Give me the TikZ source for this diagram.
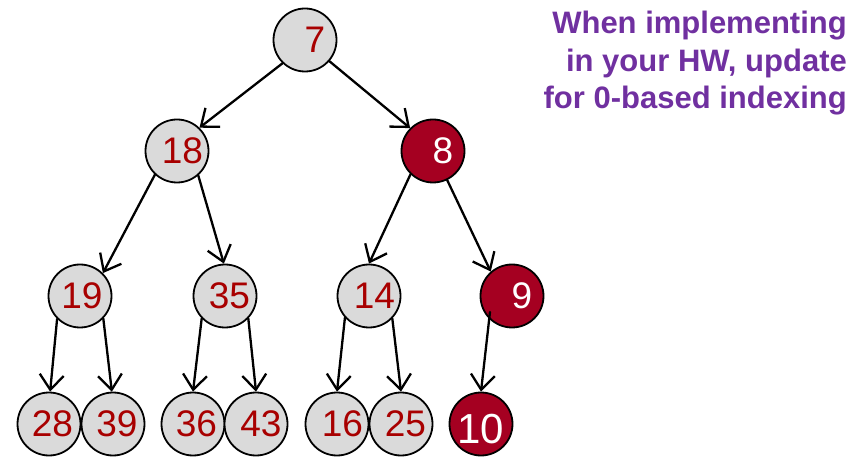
\documentclass[tikz,border=0pt]{standalone}
\usepackage{fontspec}
\setmainfont{Liberation Sans}
\usetikzlibrary{arrows.meta,calc}

\definecolor{keyred}{HTML}{A50021}
\definecolor{digitred}{HTML}{A80000}
\definecolor{keygrey}{HTML}{DADADA}
\definecolor{notepurple}{HTML}{7030A0}

% shift the digits right inside their circle (kern = twice the offset)
\newcommand\nudge[2]{\kern#1pt #2}

\begin{document}
\begin{tikzpicture}[x=1pt,y=-1pt,
  heapnode/.style={circle, draw=black, line width=1.8pt, minimum size=63pt,
    inner sep=0pt, font=\fontsize{37}{40}\selectfont},
  plain/.style={heapnode, fill=keygrey, text=digitred},
  moved/.style={heapnode, fill=keyred, text=white},
  heapedge/.style={line width=2.3pt, line cap=round,
    -{Straight Barb[length=15pt,width=24pt,line width=2.3pt]}}]
\useasboundingbox (0,0) rectangle (865,462);

% level 0
\node[plain] (n7)  at (305,40)  {\nudge{20}{7}};
% level 1
\node[plain] (n18) at (177,151) {\nudge{11}{18}};
\node[moved] (n8)  at (433,151) {\nudge{20}{8}};
% level 2
\node[plain] (n19) at (80,296)  {\nudge{4}{19}};
\node[plain] (n35) at (225,296) {\nudge{9}{35}};
\node[plain] (n14) at (369,296) {\nudge{11}{14}};
\node[moved] (n9)  at (512,296) {\nudge{20}{9}};
% level 3
\node[plain] (n28) at (49,424)  {\nudge{7}{28}};
\node[plain] (n39) at (113,424) {\nudge{8}{39}};
\node[plain] (n36) at (193,424) {\nudge{7}{36}};
\node[plain] (n43) at (256,424) {\nudge{10}{43}};
\node[plain] (n16) at (337,424) {\nudge{11}{16}};
\node[plain] (n25) at (401,424) {\nudge{9}{25}};
\node[moved, font=\fontsize{42}{44}\selectfont] (n10) at (481,424)
  {\raisebox{-4pt}[30pt][0pt]{10}};

\coordinate (n9tail) at ($(n9.center)+(-22,16)$);

% parent-to-child links
\draw[heapedge] (n7.226)  -- (n18.46);
\draw[heapedge] (n7.319)  -- (n8.135);
\draw[heapedge] (n18.227) -- (n19.45);
\draw[heapedge] (n18.311) -- (n35.92);
\draw[heapedge] (n8.226)  -- (n14.90);
\draw[heapedge] (n8.296)  -- (n9.131);
\draw[heapedge] (n19.225) -- (n28.88);
\draw[heapedge] (n19.316) -- (n39.92);
\draw[heapedge] (n35.224) -- (n36.90);
\draw[heapedge] (n35.316) -- (n43.90);
\draw[heapedge] (n14.222) -- (n16.90);
\draw[heapedge] (n14.316) -- (n25.90);
\draw[heapedge] (n9tail)  -- (n10.90);

% side note
\node[anchor=north east, align=right, inner sep=0pt, text=notepurple,
  font=\fontsize{31}{37.5}\selectfont\bfseries] (note) at (847,11)
  {When implementing\\in your HW, update\\for 0-based indexing};
\end{tikzpicture}
\end{document}
